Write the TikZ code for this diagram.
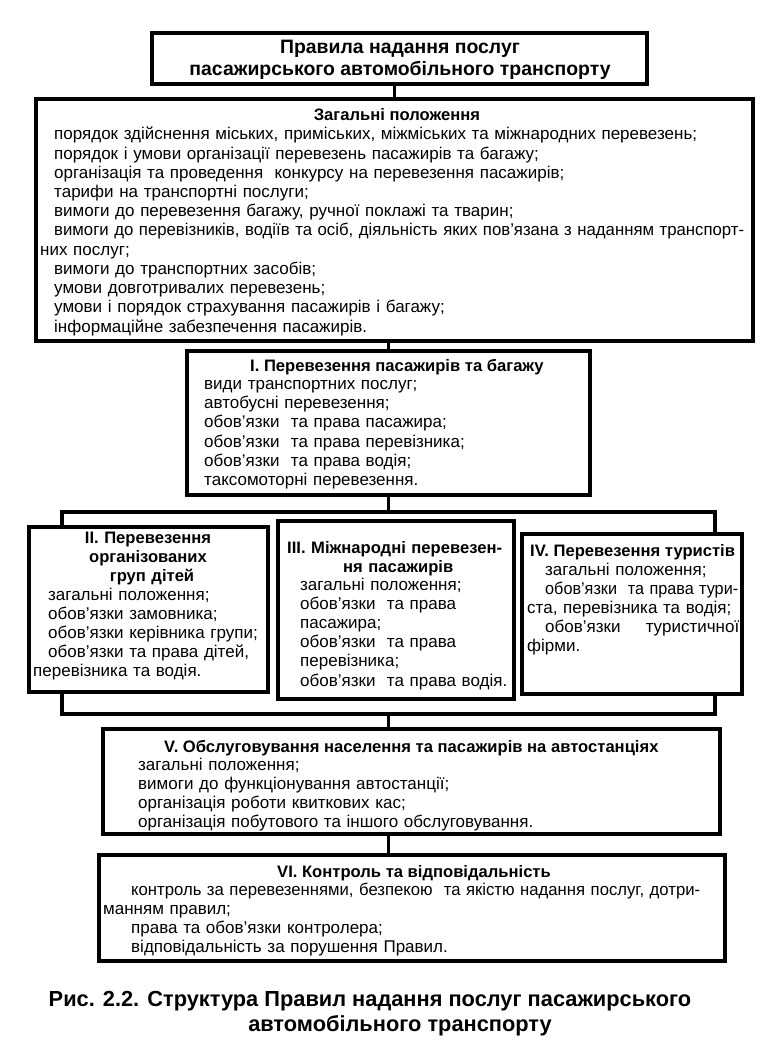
\documentclass[tikz,border=0pt]{standalone}
\usepackage{fontspec}
\usepackage{graphicx}
\setmainfont{Liberation Sans}
\newcommand\bodyf{\fontsize{17}{19.2}\selectfont}
\newcommand\headf{\fontsize{16.6}{19.2}\selectfont\bfseries}
% stretched line: indent, width, text
\newcommand\jline[3]{\hspace*{#1}\makebox[#2][s]{#3}}
% compressed line: indent, width, text
\newcommand\fitline[3]{\hspace*{#1}\resizebox{#2}{\height}{#3}}
\tikzset{
 frame/.style={draw=black, line width=3.2pt, fill=white, inner sep=0pt, outer sep=0pt, anchor=north west},
 conn/.style={draw=black, line width=3.2pt},
 body/.style={anchor=base west, inner sep=0pt, align=left, font=\bodyf},
 head/.style={anchor=base west, inner sep=0pt, font=\headf},
}
\begin{document}
\begin{tikzpicture}[x=1pt,y=-1pt]
\useasboundingbox[fill=white] (0,0) rectangle (760,1051);
% frames
\node[frame, minimum width=495pt, minimum height=51pt] (title) at (152,33) {};
\node[frame, minimum width=717pt, minimum height=242pt] (gen) at (36,99) {};
\node[frame, minimum width=403pt, minimum height=144pt] (s1) at (187,351) {};
\node[frame, fill=none, minimum width=653pt, minimum height=202pt] (bus) at (62,512) {};
\node[frame, minimum width=239pt, minimum height=165pt] (s2) at (29,527) {};
\node[frame, minimum width=236pt, minimum height=178pt] (s3) at (278,521) {};
\node[frame, minimum width=220pt, minimum height=160pt] (s4) at (522,534) {};
\node[frame, minimum width=617pt, minimum height=105pt] (s5) at (103,729) {};
\node[frame, minimum width=626pt, minimum height=106pt] (s6) at (99,855) {};
% connectors
\draw[conn] (title.south -| gen.north) -- (gen.north);
\draw[conn] (s1.north |- gen.south) -- (s1.north);
\draw[conn] (s1.south) -- (bus.north);
\draw[conn] (bus.south) -- (bus.south |- s5.north);
\draw[conn] (bus.south |- s5.south) -- (bus.south |- s6.north);
% title (base = last line)
\node[anchor=base, inner sep=0pt, align=center, font=\fontsize{19.4}{22.5}\selectfont\bfseries] (titletext) at (400,76)
 {Правила надання послуг\\пасажирського автомобільного транспорту};
% general
\node[anchor=base, inner sep=0pt, font=\headf] (genhead) at (397,121) {Загальні положення};
\node[body, text width=712pt] (genbody) at (40,140) {%
\hspace*{14pt}порядок здійснення міських, приміських, міжміських та міжнародних перевезень;\\
\hspace*{14pt}порядок і умови організації перевезень пасажирів та багажу;\\
\hspace*{14pt}організація та проведення~ конкурсу на перевезення пасажирів;\\
\hspace*{14pt}тарифи на транспортні послуги;\\
\hspace*{14pt}вимоги до перевезення багажу, ручної поклажі та тварин;\\
\fitline{14pt}{690pt}{вимоги до перевізників, водіїв та осіб, діяльність яких пов’язана з наданням транспорт-}\\
них послуг;\\
\hspace*{14pt}вимоги до транспортних засобів;\\
\hspace*{14pt}умови довготривалих перевезень;\\
\hspace*{14pt}умови і порядок страхування пасажирів і багажу;\\
\hspace*{14pt}інформаційне забезпечення пасажирів.};
% section I
\node[head] (h1) at (250,371) {І. Перевезення пасажирів та багажу};
\node[body, text width=380pt] (b1) at (204,389.5) {%
види транспортних послуг;\\
автобусні перевезення;\\
обов’язки~ та права пасажира;\\
обов’язки~ та права перевізника;\\
обов’язки~ та права водія;\\
таксомоторні перевезення.};
% section II
\node[anchor=base, inner sep=0pt, text width=230pt, align=center, font=\headf] (h2) at (148,543)
 {ІІ. Перевезення\\організованих\\\hspace*{8pt}груп дітей};
\node[body, text width=232pt] (b2) at (33,600) {%
\hspace*{15pt}загальні положення;\\
\hspace*{15pt}обов’язки замовника;\\
\hspace*{15pt}обов’язки керівника групи;\\
\jline{15pt}{215pt}{обов’язки та права дітей,}\\
перевізника та водія.};
% section III
\node[head, text width=224pt, align=left] (h3) at (287,553)
 {ІІІ. Міжнародні перевезен-\\\makebox[222pt][c]{ня пасажирів}};
\node[body, text width=212pt] (b3) at (300,590) {%
загальні положення;\\
обов’язки~ та права\\
пасажира;\\
обов’язки~ та права\\
перевізника;\\
обов’язки~ та права водія.};
% section IV
\node[head] (h4) at (530,556) {ІV. Перевезення туристів};
\node[body, text width=216pt] (b4) at (527,575) {%
\hspace*{18pt}загальні положення;\\
\fitline{18pt}{193pt}{обов’язки~ та права тури-}\\
\jline{0pt}{211pt}{ста, перевізника та водія;}\\
\hspace*{18pt}\makebox[194pt][l]{обов’язки\hfill туристичної}\\
фірми.};
% section V
\node[head] (h5) at (164,752) {V. Обслуговування населення та пасажирів на автостанціях};
\node[body, text width=560pt] (b5) at (138,770) {%
загальні положення;\\
вимоги до функціонування автостанції;\\
організація роботи квиткових кас;\\
організація побутового та іншого обслуговування.};
% section VI
\node[anchor=base, inner sep=0pt, font=\headf] (h6) at (414,877) {VI. Контроль та відповідальність};
\node[body, text width=600pt] (b6) at (103,895) {%
\fitline{28pt}{569pt}{контроль за перевезеннями, безпекою~ та якістю надання послуг, дотри-}\\
манням правил;\\
\hspace*{28pt}права та обов’язки контролера;\\
\hspace*{28pt}відповідальність за порушення Правил.};
% caption (base = last line)
\node[anchor=base, inner sep=0pt, align=center, font=\fontsize{21.8}{25}\selectfont\bfseries] (caption) at (370,1031)
 {Рис. 2.2. Структура Правил надання послуг пасажирського\\\hspace*{60pt}автомобільного транспорту};
\end{tikzpicture}
\end{document}
